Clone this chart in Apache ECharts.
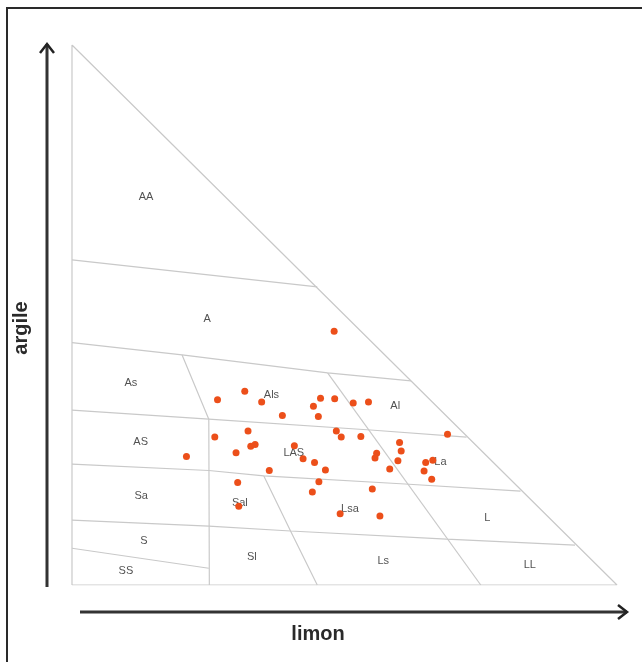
<!DOCTYPE html>
<html><head><meta charset="utf-8">
<script src="https://cdn.jsdelivr.net/npm/echarts@6/dist/echarts.min.js"></script>
<style>html,body{margin:0;padding:0;background:#fff}#c{width:642px;height:662px}</style>
</head><body><div id="c"></div>
<script>
// sample points: limon (%) and argile (%)
const sampleLimon  = [26.7,31.7,34.8,38.6,44.3,45.6,48.2,45.2,51.6,54.4,68.9,26.2,32.3,32.8,33.6,30.1,21.0,40.8,42.4,44.5,46.5,36.2,48.5,49.4,53.0,55.9,55.6,60.1,60.4,59.8,58.3,64.9,66.2,64.6,66.0,30.4,45.3,44.1,55.1,30.6,49.2,56.5,48.1];
const sampleArgile = [34.3,35.9,33.9,31.4,33.1,34.6,34.5,31.2,33.7,33.9,27.9,27.4,28.5,25.7,26.0,24.5,23.8,25.8,23.4,22.7,21.3,21.2,28.5,27.4,27.5,24.4,23.5,26.4,24.8,23.0,21.5,22.7,23.1,21.1,19.6,19.0,19.1,17.2,17.8,14.6,13.2,12.8,47.0];

// texture class labels
const zoneNames  = ['AA','A','As','Als','Al','AS','LAS','La','Sa','Sal','Lsa','L','S','SS','Sl','Ls','LL'];
const zoneLimon  = [13.6,24.8,10.8,36.6,59.3,12.6,40.7,67.6,12.7,30.8,51.0,76.2,13.2,9.9,33.0,57.1,84.0];
const zoneArgile = [71.9,49.3,37.5,35.2,33.1,26.5,24.4,22.8,16.5,15.2,14.1,12.5,8.2,2.6,5.1,4.5,3.7];

// class boundaries (limon, argile)
const outline    = [[0,0],[100,0],[0,100],[0,0]];
const lineAA_A   = [[0,60.2],[45,55.2]];
const lineA_As   = [[0,44.9],[20.2,42.6],[46.9,39.3],[62.2,37.8]];
const lineAs_AS  = [[0,32.4],[25.1,30.7],[54.8,28.7],[72.4,27.4]];
const lineAS_Sa  = [[0,22.4],[25.1,21.2],[35.2,20.2],[61.1,18.7],[82.3,17.4]];
const lineSa_S   = [[0,12],[25.1,10.9],[40.1,10],[68.7,8.5],[92.3,7.4]];
const lineS_SS   = [[0,6.8],[25.1,3.1]];
const lineAs_Als = [[20.2,42.6],[25.1,30.7],[25.2,0]];
const lineSal_Lsa= [[35.2,20.2],[40.1,10],[45,0]];
const lineAl_La  = [[46.9,39.3],[75,0]];

const boundaries = [outline,lineAA_A,lineA_As,lineAs_AS,lineAS_Sa,lineSa_S,lineS_SS,lineAs_Als,lineSal_Lsa,lineAl_La];

const chart = echarts.init(document.getElementById('c'), null, {renderer:'canvas'});
const series = boundaries.map(b => ({
  type:'line', data:b, symbol:'none', silent:true, animation:false,
  lineStyle:{color:'#c9c9c9', width:1.2}, z:1
}));
series.push({
  type:'scatter', animation:false, symbolSize:1, z:2,
  itemStyle:{color:'rgba(0,0,0,0)'},
  data: zoneNames.map((n,i)=>({value:[zoneLimon[i], zoneArgile[i]], name:n})),
  label:{show:true, position:'inside', formatter:p=>p.name, color:'#262626',
         fontSize:11, fontFamily:'Liberation Sans, Arial, sans-serif'}
});
series.push({
  type:'scatter', animation:false, symbolSize:7, z:3,
  itemStyle:{color:'#ec4f1a', opacity:1},
  data: sampleLimon.map((v,i)=>[v, sampleArgile[i]])
});

chart.setOption({
  backgroundColor:'#fff',
  animation:false,
  grid:{left:72, top:45, width:545, height:540},
  xAxis:{type:'value', min:0, max:100, show:false},
  yAxis:{type:'value', min:0, max:100, show:false},
  series: series,
  graphic:[
    {type:'rect', shape:{x:7,y:8,width:700,height:700}, style:{fill:'none', stroke:'#2a2a2a', lineWidth:2}},
    {type:'line', shape:{x1:47,y1:587,x2:47,y2:44}, style:{stroke:'#333', lineWidth:3}},
    {type:'polyline', shape:{points:[[40,53],[47,44],[54,53]]}, style:{stroke:'#222', lineWidth:2.5, fill:'none'}},
    {type:'line', shape:{x1:80,y1:612,x2:627,y2:612}, style:{stroke:'#333', lineWidth:3}},
    {type:'polyline', shape:{points:[[618,605],[627,612],[618,619]]}, style:{stroke:'#222', lineWidth:2.5, fill:'none'}},
    {type:'text', x:21, y:328, rotation:Math.PI/2, style:{text:'argile', fill:'#2a2a2a', font:'bold 20px "Liberation Sans", Arial, sans-serif', align:'center', verticalAlign:'middle'}},
    {type:'text', x:318, y:634, style:{text:'limon', fill:'#2a2a2a', font:'bold 20px "Liberation Sans", Arial, sans-serif', align:'center', verticalAlign:'middle'}}
  ]
});
</script></body></html>
